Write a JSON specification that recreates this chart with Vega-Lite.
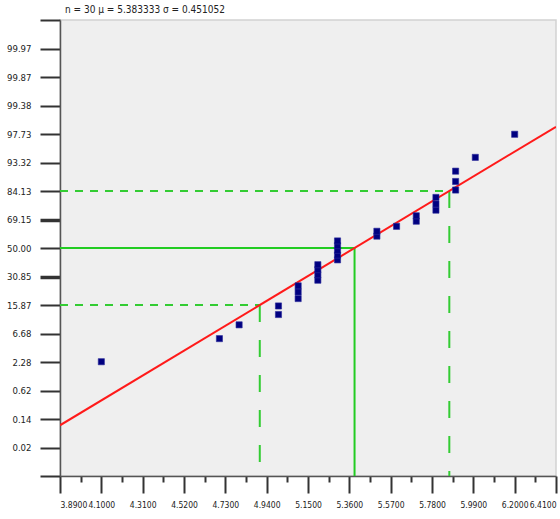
{
  "$schema": "https://vega.github.io/schema/vega-lite/v6.json",
  "width": 496,
  "height": 456,
  "autosize": {"type": "none"},
  "padding": {"left": 60, "top": 20, "right": 4, "bottom": 43},
  "background": "#ffffff",
  "title": {
    "text": "n = 30  μ = 5.383333  σ = 0.451052",
    "anchor": "start",
    "frame": "group",
    "dx": 5,
    "dy": 14,
    "offset": 4,
    "baseline": "bottom",
    "fontSize": 10,
    "fontWeight": "normal",
    "font": "'Liberation Sans Narrow', 'DejaVu Sans Condensed', 'Liberation Sans', sans-serif",
    "color": "#222222"
  },
  "config": {
    "view": {"fill": "#efefef", "stroke": "#d2d2d2", "strokeWidth": 1.5},
    "axis": {
      "grid": false,
      "domainColor": "#555555",
      "domainWidth": 1.5,
      "tickColor": "#333333",
      "labelColor": "#222222",
      "labelFont": "'Liberation Sans Narrow', 'DejaVu Sans Condensed', 'Liberation Sans', sans-serif",
      "labelFontSize": 9.5,
      "labelOverlap": false,
      "labelBound": false
    }
  },
  "datasets": {
    "obs": [
      {"x": 4.10, "z": -1.995},
      {"x": 4.70, "z": -1.590},
      {"x": 4.80, "z": -1.348},
      {"x": 5.00, "z": -1.167},
      {"x": 5.00, "z": -1.017},
      {"x": 5.10, "z": -0.887},
      {"x": 5.10, "z": -0.771},
      {"x": 5.10, "z": -0.664},
      {"x": 5.20, "z": -0.565},
      {"x": 5.20, "z": -0.470},
      {"x": 5.20, "z": -0.380},
      {"x": 5.20, "z": -0.293},
      {"x": 5.30, "z": -0.208},
      {"x": 5.30, "z": -0.124},
      {"x": 5.30, "z": -0.041},
      {"x": 5.30, "z": 0.041},
      {"x": 5.30, "z": 0.124},
      {"x": 5.50, "z": 0.208},
      {"x": 5.50, "z": 0.293},
      {"x": 5.60, "z": 0.380},
      {"x": 5.70, "z": 0.470},
      {"x": 5.70, "z": 0.565},
      {"x": 5.80, "z": 0.664},
      {"x": 5.80, "z": 0.771},
      {"x": 5.80, "z": 0.887},
      {"x": 5.90, "z": 1.017},
      {"x": 5.90, "z": 1.167},
      {"x": 5.90, "z": 1.348},
      {"x": 6.00, "z": 1.590},
      {"x": 6.20, "z": 1.995}
    ],
    "fit": [
      {"x": 3.89, "z": -3.11},
      {"x": 6.41, "z": 2.127}
    ],
    "solid": [
      {"x": 3.89, "x2": 5.3865, "z": 0, "z2": 0},
      {"x": 5.3865, "x2": 5.3865, "z": 0, "z2": -4}
    ],
    "dashH": [
      {"x": 3.89, "x2": 4.905, "z": -1, "z2": -1},
      {"x": 3.89, "x2": 5.868, "z": 1, "z2": 1}
    ],
    "dashV": [
      {"x": 4.905, "x2": 4.905, "z": -1, "z2": -4},
      {"x": 5.868, "x2": 5.868, "z": 1, "z2": -4}
    ]
  },
  "resolve": {"axis": {"x": "independent"}},
  "layer": [
    {
      "data": {"name": "solid"},
      "mark": {"type": "rule", "color": "#22cc22", "strokeWidth": 2},
      "encoding": {
        "x": {"field": "x", "type": "quantitative", "scale": {"domain": [3.89, 6.41], "nice": false, "zero": false}, "axis": null},
        "x2": {"field": "x2"},
        "y": {"field": "z", "type": "quantitative", "scale": {"domain": [-4, 4], "nice": false, "zero": false},
          "axis": {"title": null, "values": [-4, -3.5, -3, -2.5, -2, -1.5, -1, -0.5, 0, 0.5, 1, 1.5, 2, 2.5, 3, 3.5, 4],
            "labelExpr": "['', '0.02', '0.14', '0.62', '2.28', '6.68', '15.87', '30.85', '50.00', '69.15', '84.13', '93.32', '97.73', '99.38', '99.87', '99.97', ''][round((datum.value + 4) * 2)]",
            "tickSize": 20, "labelPadding": 9, "tickWidth": {"condition": {"test": "abs(datum.value) == 0.5", "value": 3.5}, "value": 2}}},
        "y2": {"field": "z2"}
      }
    },
    {
      "data": {"name": "dashH"},
      "mark": {"type": "rule", "color": "#33cc33", "strokeWidth": 2, "strokeDash": [8, 7]},
      "encoding": {
        "x": {"field": "x", "type": "quantitative", "axis": null},
        "x2": {"field": "x2"},
        "y": {"field": "z", "type": "quantitative",
          "axis": {"title": null, "values": [-4, -3.5, -3, -2.5, -2, -1.5, -1, -0.5, 0, 0.5, 1, 1.5, 2, 2.5, 3, 3.5, 4],
            "labelExpr": "['', '0.02', '0.14', '0.62', '2.28', '6.68', '15.87', '30.85', '50.00', '69.15', '84.13', '93.32', '97.73', '99.38', '99.87', '99.97', ''][round((datum.value + 4) * 2)]",
            "tickSize": 20, "labelPadding": 9, "tickWidth": {"condition": {"test": "abs(datum.value) == 0.5", "value": 3.5}, "value": 2}}},
        "y2": {"field": "z2"}
      }
    },
    {
      "data": {"name": "dashV"},
      "mark": {"type": "rule", "color": "#33cc33", "strokeWidth": 2, "strokeDash": [17, 18]},
      "encoding": {
        "x": {"field": "x", "type": "quantitative", "axis": null},
        "x2": {"field": "x2"},
        "y": {"field": "z", "type": "quantitative",
          "axis": {"title": null, "values": [-4, -3.5, -3, -2.5, -2, -1.5, -1, -0.5, 0, 0.5, 1, 1.5, 2, 2.5, 3, 3.5, 4],
            "labelExpr": "['', '0.02', '0.14', '0.62', '2.28', '6.68', '15.87', '30.85', '50.00', '69.15', '84.13', '93.32', '97.73', '99.38', '99.87', '99.97', ''][round((datum.value + 4) * 2)]",
            "tickSize": 20, "labelPadding": 9, "tickWidth": {"condition": {"test": "abs(datum.value) == 0.5", "value": 3.5}, "value": 2}}},
        "y2": {"field": "z2"}
      }
    },
    {
      "data": {"name": "fit"},
      "mark": {"type": "line", "color": "#ff1a1a", "strokeWidth": 2, "clip": true},
      "encoding": {
        "x": {"field": "x", "type": "quantitative",
          "axis": {"orient": "bottom", "title": null, "values": [3.995, 4.205, 4.415, 4.625, 4.835, 5.045, 5.255, 5.465, 5.675, 5.885, 6.095, 6.305],
            "labels": false, "domain": false, "tickSize": 6, "tickWidth": 2}},
        "y": {"field": "z", "type": "quantitative",
          "axis": {"title": null, "values": [-4, -3.5, -3, -2.5, -2, -1.5, -1, -0.5, 0, 0.5, 1, 1.5, 2, 2.5, 3, 3.5, 4],
            "labelExpr": "['', '0.02', '0.14', '0.62', '2.28', '6.68', '15.87', '30.85', '50.00', '69.15', '84.13', '93.32', '97.73', '99.38', '99.87', '99.97', ''][round((datum.value + 4) * 2)]",
            "tickSize": 20, "labelPadding": 9, "tickWidth": {"condition": {"test": "abs(datum.value) == 0.5", "value": 3.5}, "value": 2}}}
      }
    },
    {
      "data": {"name": "obs"},
      "mark": {"type": "point", "shape": "square", "filled": true, "size": 38, "color": "#000080", "opacity": 1, "stroke": "#2a2a9a", "strokeWidth": 0.6},
      "encoding": {
        "x": {"field": "x", "type": "quantitative",
          "axis": {"orient": "bottom", "title": null, "values": [3.89, 4.10, 4.31, 4.52, 4.73, 4.94, 5.15, 5.36, 5.57, 5.78, 5.99, 6.20, 6.41],
            "format": ".4f", "tickSize": 17, "tickWidth": 2, "labelPadding": 7, "labelOverlap": false, "labelFontSize": 8.5}},
        "y": {"field": "z", "type": "quantitative",
          "axis": {"title": null, "values": [-4, -3.5, -3, -2.5, -2, -1.5, -1, -0.5, 0, 0.5, 1, 1.5, 2, 2.5, 3, 3.5, 4],
            "labelExpr": "['', '0.02', '0.14', '0.62', '2.28', '6.68', '15.87', '30.85', '50.00', '69.15', '84.13', '93.32', '97.73', '99.38', '99.87', '99.97', ''][round((datum.value + 4) * 2)]",
            "tickSize": 20, "labelPadding": 9, "tickWidth": {"condition": {"test": "abs(datum.value) == 0.5", "value": 3.5}, "value": 2}}}
      }
    }
  ]
}
